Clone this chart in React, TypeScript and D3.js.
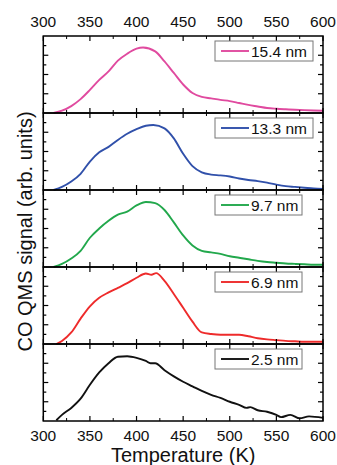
import React from 'react';
import * as d3 from 'd3';

// temperature (K) and CO signal (arb. units, 0..1 of panel height) per film thickness
const temps154 = [311, 320, 330, 340, 350, 360, 370, 380, 390, 400, 407, 420, 430, 440, 450, 460, 470, 480, 490, 500, 510, 520, 530, 540, 550, 560, 570, 580, 590, 600];
const vals154 = [0.0, 0.03, 0.09, 0.18, 0.3, 0.43, 0.54, 0.68, 0.77, 0.835, 0.85, 0.8, 0.67, 0.52, 0.37, 0.26, 0.21, 0.19, 0.17, 0.155, 0.13, 0.105, 0.085, 0.065, 0.055, 0.048, 0.042, 0.037, 0.033, 0.03];

const temps133 = [311, 320, 330, 340, 350, 360, 370, 380, 390, 400, 410, 418, 430, 440, 450, 460, 470, 480, 490, 500, 510, 520, 530, 540, 550, 560, 570, 580, 590, 600];
const vals133 = [0.0, 0.04, 0.11, 0.21, 0.37, 0.49, 0.56, 0.65, 0.73, 0.79, 0.835, 0.845, 0.8, 0.67, 0.47, 0.31, 0.23, 0.2, 0.19, 0.175, 0.15, 0.13, 0.115, 0.095, 0.07, 0.05, 0.04, 0.03, 0.02, 0.015];

const temps97 = [311, 320, 330, 340, 350, 360, 370, 380, 390, 400, 410, 420, 430, 440, 450, 460, 470, 480, 490, 500, 510, 520, 530, 540, 550, 560, 570, 580, 590, 600];
const vals97 = [0.0, 0.04, 0.11, 0.21, 0.38, 0.5, 0.6, 0.68, 0.72, 0.8, 0.845, 0.83, 0.74, 0.58, 0.41, 0.28, 0.21, 0.19, 0.17, 0.14, 0.12, 0.1, 0.08, 0.065, 0.055, 0.045, 0.04, 0.035, 0.03, 0.03];

const temps69 = [314, 320, 330, 340, 350, 360, 370, 380, 390, 400, 410, 416, 421, 430, 440, 450, 460, 470, 480, 490, 500, 510, 520, 530, 540, 550, 560, 570, 580, 590, 600];
const vals69 = [0.0, 0.04, 0.15, 0.33, 0.49, 0.6, 0.67, 0.73, 0.79, 0.86, 0.915, 0.9, 0.92, 0.82, 0.65, 0.47, 0.29, 0.15, 0.13, 0.12, 0.12, 0.12, 0.1, 0.075, 0.06, 0.05, 0.04, 0.035, 0.03, 0.03, 0.03];

const temps25 = [314, 320, 330, 340, 350, 360, 370, 380, 390, 400, 410, 415, 420, 430, 440, 450, 460, 470, 480, 490, 500, 510, 518, 522, 530, 540, 550, 555, 565, 575, 585, 600];
const vals25 = [0.01, 0.08, 0.17, 0.29, 0.47, 0.63, 0.75, 0.835, 0.84, 0.82, 0.78, 0.75, 0.75, 0.66, 0.58, 0.51, 0.45, 0.39, 0.34, 0.3, 0.25, 0.21, 0.17, 0.18, 0.14, 0.12, 0.08, 0.05, 0.08, 0.035, 0.06, 0.04];

const labels = ['15.4 nm', '13.3 nm', '9.7 nm', '6.9 nm', '2.5 nm'];
const colors = ['#e04a9f', '#3050aa', '#22a84c', '#ee2b2b', '#111111'];
const xTicks = [300, 350, 400, 450, 500, 550, 600];

const series = [
  { t: temps154, v: vals154 },
  { t: temps133, v: vals133 },
  { t: temps97, v: vals97 },
  { t: temps69, v: vals69 },
  { t: temps25, v: vals25 },
];

const W = 337;
const H = 465;
const left = 43.3;
const right = 323;
const top = 36;
const panelH = 77;
const font = '"Liberation Sans", Arial, sans-serif';

export default function App() {
  const x = d3.scaleLinear().domain([300, 600]).range([left, right]);
  const minor = d3.range(325, 600, 50);
  const yFrac = [0.125, 0.25, 0.375, 0.5, 0.625, 0.75, 0.875];
  const bottom = top + panelH * series.length;

  return (
    <svg width={W} height={H} style={{ position: 'absolute', left: 0, top: 0, background: '#fff' }} fontFamily={font}>
      {series.map((s, i) => {
        const y0 = top + i * panelH;
        const y = d3.scaleLinear().domain([0, 1]).range([y0 + panelH, y0]);
        const line = d3
          .line<number>()
          .x((d, k) => x(s.t[k]))
          .y((d) => y(d))
          .curve(d3.curveMonotoneX);
        const boxTop = y0 + 5;
        const boxW = 21 + labels[i].length * 11;
        return (
          <g key={i}>
            <path d={line(s.v) || ''} fill="none" stroke={colors[i]} strokeWidth={1.9} strokeLinejoin="round" />
            {/* x ticks, inward on top and bottom */}
            {xTicks.map((t) => (
              <g key={'M' + t} stroke="#000" strokeWidth={1.2}>
                <line x1={x(t)} x2={x(t)} y1={y0} y2={y0 + 5} />
                <line x1={x(t)} x2={x(t)} y1={y0 + panelH} y2={y0 + panelH - 5} />
              </g>
            ))}
            {minor.map((t) => (
              <g key={'m' + t} stroke="#000" strokeWidth={1}>
                <line x1={x(t)} x2={x(t)} y1={y0} y2={y0 + 3} />
                <line x1={x(t)} x2={x(t)} y1={y0 + panelH} y2={y0 + panelH - 3} />
              </g>
            ))}
            {/* y ticks left and right */}
            {yFrac.map((f, k) => {
              const len = k % 2 === 1 ? 5 : 3;
              return (
                <g key={'y' + k} stroke="#000" strokeWidth={1.2}>
                  <line x1={left} x2={left + len} y1={y(f)} y2={y(f)} />
                  <line x1={right} x2={right - len} y1={y(f)} y2={y(f)} />
                </g>
              );
            })}
            <rect x={left} y={y0} width={right - left} height={panelH} fill="none" stroke="#000" strokeWidth={1.5} />
            {/* legend */}
            <rect x={215} y={boxTop} width={boxW} height={20} fill="#fff" stroke="#777" strokeWidth={1} />
            <line x1={221} x2={249} y1={boxTop + 10} y2={boxTop + 10} stroke={colors[i]} strokeWidth={1.9} />
            <text x={251} y={boxTop + 15.5} fontSize={15.5} fill="#111">
              {labels[i]}
            </text>
          </g>
        );
      })}
      {xTicks.map((t) => (
        <g key={'l' + t} fontSize={15.5} fill="#111" textAnchor="middle">
          <text x={x(t)} y={27}>{t}</text>
          <text x={x(t)} y={441}>{t}</text>
        </g>
      ))}
      <text x={(left + right) / 2} y={462} fontSize={20} textAnchor="middle" fill="#111">
        Temperature (K)
      </text>
      <text
        transform={`translate(31.5, ${(top + bottom) / 2 + 3}) rotate(-90)`}
        fontSize={20}
        textAnchor="middle"
        fill="#111"
      >
        CO QMS signal (arb. units)
      </text>
    </svg>
  );
}
